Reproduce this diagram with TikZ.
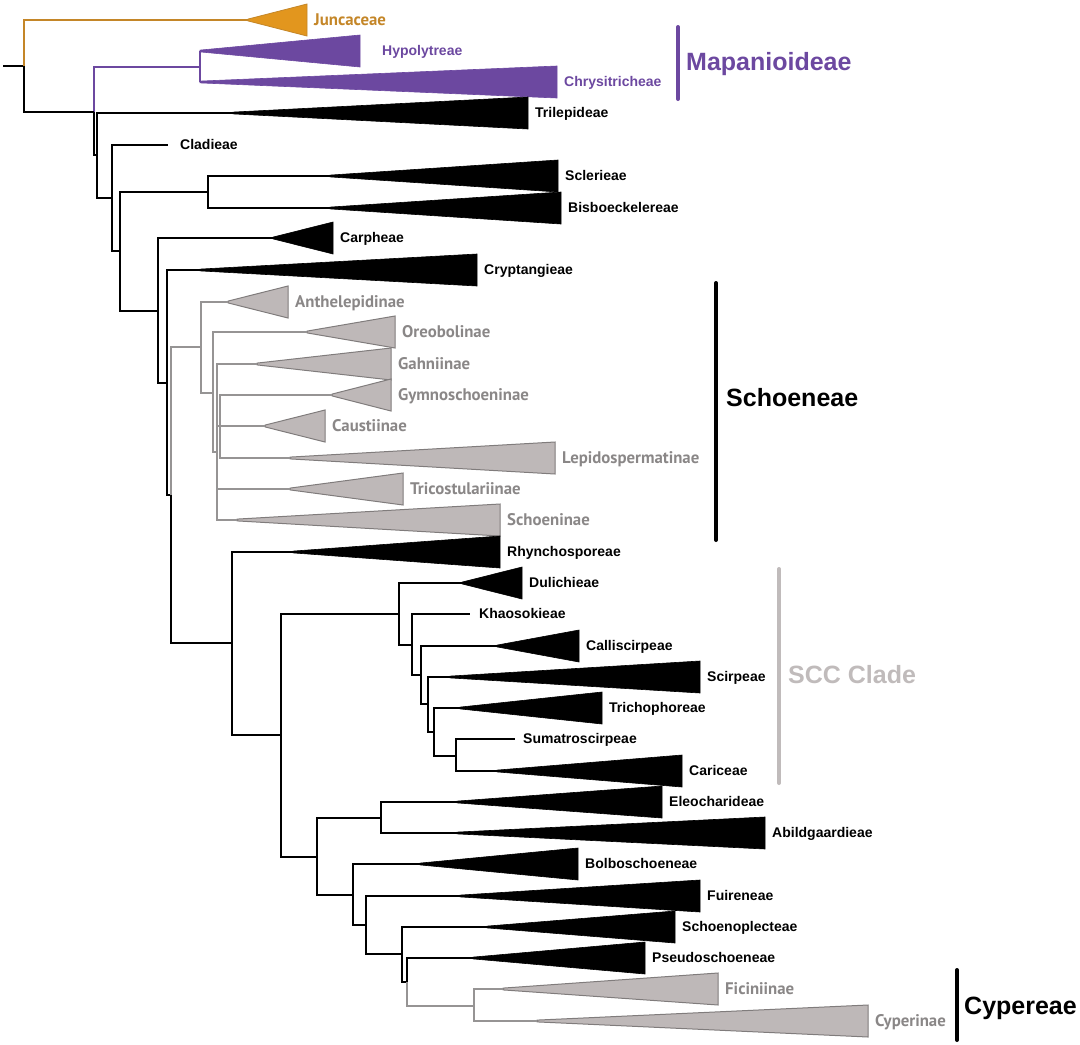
\documentclass[tikz,border=0pt]{standalone}
\usepackage{fontspec}
\setmainfont{Liberation Sans}
\newfontfamily\graysans{PT Sans}
\usepackage{tikz}
\definecolor{mapan}{RGB}{108,72,160}
\definecolor{junc}{RGB}{226,150,30}
\definecolor{juncd}{RGB}{196,134,40}
\definecolor{tipgray}{RGB}{190,184,184}
\definecolor{edgegray}{RGB}{128,124,124}
\definecolor{brgray}{RGB}{150,148,148}
\definecolor{labgray}{RGB}{138,135,135}
\definecolor{sccgray}{RGB}{192,187,187}

% #1 label options, #2 triangle style, #3 name, #4 y, #5 apex x, #6 right x, #7 text
\newcommand{\clade}[7][]{
  \coordinate (#3) at (#5,#4);
  \filldraw[#2] (#5,#4-0.9) -- (#6,#4-16) -- (#6,#4+16) -- (#5,#4+0.9) -- cycle;
  \node[lab,#1] (#3-lab) at (#6,#4) {#7};
}

\begin{document}
\begin{tikzpicture}[x=1pt,y=-1pt,
  br/.style={line width=1.8pt},
  grbr/.style={br,draw=brgray},
  blk/.style={fill=black,draw=black,line width=0.6pt},
  gtri/.style={fill=tipgray,draw=edgegray,line width=1pt},
  ptri/.style={fill=mapan,draw=mapan,line width=0.6pt},
  otri/.style={fill=junc,draw=juncd,line width=0.8pt},
  lab/.style={anchor=west,xshift=7pt,inner sep=0pt,text height=10pt,text depth=1pt,font=\bfseries\fontsize{14}{14}\selectfont},
  glab/.style={text=labgray,text height=11pt,font=\graysans\bfseries\fontsize{16.8}{17}\selectfont},
  bar/.style={line width=4pt,line cap=round},
  big/.style={anchor=west,inner sep=0pt,text height=18pt,text depth=0pt,font=\bfseries\fontsize{25}{25}\selectfont}]
\useasboundingbox (0,0) rectangle (1080,1045);

\coordinate (stub) at (3,66);
\coordinate (root) at (24,66);
\coordinate (n1) at (94,112);
\coordinate (mapn) at (200,67);
\coordinate (n2) at (97,155);
\coordinate (n3) at (112,198);
\coordinate (n4) at (120,251);
\coordinate (n5) at (208,192);
\coordinate (n6) at (158,311);
\coordinate (n7) at (167,383);
\coordinate (n8) at (171,495);
\coordinate (s1) at (201,347);
\coordinate (s2) at (213,393);
\coordinate (s3) at (217,452);
\coordinate (s4) at (220,426);
\coordinate (n9) at (232,643);
\coordinate (n10) at (281,735);
\coordinate (n11) at (399,614);
\coordinate (n12) at (412,645);
\coordinate (n13) at (421,675);
\coordinate (n14) at (428,704);
\coordinate (n15) at (434,732);
\coordinate (n16) at (456,756);
\coordinate (n20) at (317,857);
\coordinate (n21) at (381,818);
\coordinate (n22) at (353,895);
\coordinate (n23) at (366,925);
\coordinate (n24) at (402,954);
\coordinate (n25) at (407,982);
\coordinate (c1) at (474,1006);

\clade[glab,text=juncd]{otri}{junc}{20}{248}{307}{Juncaceae}
\clade[text=mapan,xshift=15pt]{ptri}{hypo}{51}{200}{360}{Hypolytreae}
\clade[text=mapan]{ptri}{chry}{82}{200}{557}{Chrysitricheae}
\clade{blk}{tril}{113}{233}{528}{Trilepideae}
\clade{blk}{scle}{176}{330}{558}{Sclerieae}
\clade{blk}{bisb}{208}{330}{561}{Bisboeckelereae}
\clade{blk}{carp}{238}{273}{333}{Carpheae}
\clade{blk}{cryp}{270}{200}{477}{Cryptangieae}
\clade[glab]{gtri}{anth}{302}{228}{288}{Anthelepidinae}
\clade[glab]{gtri}{oreo}{332}{307}{395}{Oreobolinae}
\clade[glab]{gtri}{gahn}{364}{257}{391}{Gahniinae}
\clade[glab]{gtri}{gymn}{395}{332}{391}{Gymnoschoeninae}
\clade[glab]{gtri}{caus}{426}{265}{325}{Caustiinae}
\clade[glab]{gtri}{lepi}{458}{290}{555}{Lepidospermatinae}
\clade[glab]{gtri}{tric}{489}{290}{403}{Tricostulariinae}
\clade[glab]{gtri}{scho}{520}{237}{500}{Schoeninae}
\clade{blk}{rhyn}{552}{293}{500}{Rhynchosporeae}
\clade{blk}{duli}{583}{462}{522}{Dulichieae}
\clade{blk}{call}{646}{497}{579}{Calliscirpeae}
\clade{blk}{scir}{677}{450}{700}{Scirpeae}
\clade{blk}{trih}{708}{460}{602}{Trichophoreae}
\clade{blk}{cari}{771}{497}{682}{Cariceae}
\clade{blk}{eleo}{802}{457}{662}{Eleocharideae}
\clade{blk}{abil}{833}{457}{765}{Abildgaardieae}
\clade{blk}{bolb}{864}{420}{578}{Bolboschoeneae}
\clade{blk}{fuir}{896}{460}{700}{Fuireneae}
\clade{blk}{scpl}{927}{487}{675}{Schoenoplecteae}
\clade{blk}{pseu}{958}{473}{645}{Pseudoschoeneae}
\clade[glab]{gtri}{fici}{989}{503}{718}{Ficiniinae}
\clade[glab]{gtri}{cype}{1021}{537}{868}{Cyperinae}

\coordinate (clad) at (168,145);
\coordinate (khao) at (470,614);
\coordinate (suma) at (515,739);
\node[lab,xshift=5pt] (clad-lab) at (clad) {Cladieae};
\node[lab,xshift=2pt] (khao-lab) at (khao) {Khaosokieae};
\node[lab,xshift=1pt] (suma-lab) at (suma) {Sumatroscirpeae};

\draw[br] (stub) -- (root);
\draw[br,draw=juncd] (root) |- (junc);
\draw[br,draw=mapan] (n1) |- (mapn);
\foreach \c in {hypo,chry}
  \draw[br,draw=mapan] (mapn) |- (\c);
\foreach \a/\b in {root/n1,n1/n2,n2/tril,n2/n3,n3/clad,n3/n4,n4/n5,n5/scle,n5/bisb,
    n4/n6,n6/carp,n6/n7,n7/cryp,n7/n8,n8/n9,n9/rhyn,n9/n10,n10/n11,n11/duli,n11/n12,
    n12/khao,n12/n13,n13/call,n13/n14,n14/scir,n14/n15,n15/trih,n15/n16,n16/suma,n16/cari,
    n10/n20,n20/n21,n21/eleo,n21/abil,n20/n22,n22/bolb,n22/n23,n23/fuir,n23/n24,n24/scpl,
    n24/n25,n25/pseu}
  \draw[br] (\a) |- (\b);
\foreach \a/\b in {n8/s1,s1/anth,s1/s2,s2/oreo,s2/s3,s3/gahn,s3/s4,s4/gymn,s4/caus,
    s4/lepi,s3/tric,s3/scho,n25/c1,c1/fici,c1/cype}
  \draw[grbr] (\a) |- (\b);

\coordinate (mapt) at (678,27);
\coordinate (mapb) at (678,99);
\coordinate (schot) at (716,283);
\coordinate (schob) at (716,540);
\coordinate (scct) at (779,569);
\coordinate (sccb) at (779,783);
\coordinate (cypt) at (957,970);
\coordinate (cypb) at (957,1040);
\draw[bar,draw=mapan] (mapt) -- (mapb);
\draw[bar] (schot) -- (schob);
\draw[bar,draw=sccgray] (scct) -- (sccb);
\draw[bar] (cypt) -- (cypb);
\node[big,text=mapan] (mapan-lab) at (686,61) {Mapanioideae};
\node[big] (schoen-lab) at (726,397) {Schoeneae};
\node[big,text=sccgray] (scc-lab) at (788,674) {SCC Clade};
\node[big] (cyper-lab) at (964,1005) {Cypereae};
\end{tikzpicture}
\end{document}
